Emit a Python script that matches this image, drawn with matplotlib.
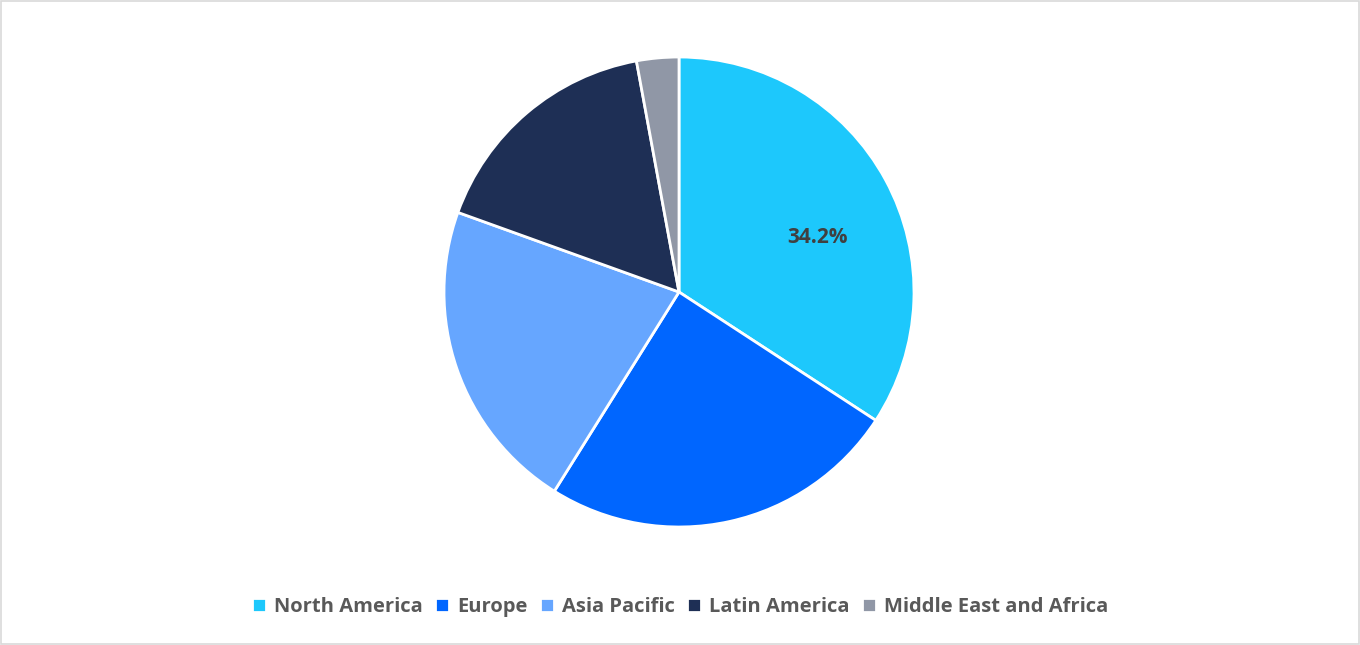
import matplotlib
matplotlib.use("Agg")
import matplotlib.pyplot as plt
from matplotlib.patches import Rectangle

categories = ["North America", "Europe", "Asia Pacific", "Latin America", "Middle East and Africa"]
values = [34.2, 24.7, 21.6, 16.6, 2.9]
colors = ["#1DC8FC", "#0066FF", "#66A6FF", "#1E2F55", "#9097A6"]

fig = plt.figure(figsize=(13.6, 6.45), dpi=100)
fig.patches.append(Rectangle((0.001, 0.002), 0.998, 0.996, transform=fig.transFigure,
                             fill=False, edgecolor="#D9D9D9", linewidth=1.2))
ax = fig.add_axes([(679 - 235) / 1360, (645 - 527) / 645, 470 / 1360, 470 / 645])

def fmt(p):
    return f"{p:.1f}%" if p > 30 else ""

wedges, texts, autotexts = ax.pie(values, colors=colors, startangle=90, counterclock=False,
                                  autopct=fmt, pctdistance=0.63, radius=1,
                                  wedgeprops=dict(edgecolor="white", linewidth=2))
for t in autotexts:
    t.set_fontsize(15); t.set_fontweight("bold"); t.set_color("#404040")
    t.set_family("Open Sans")
autotexts[0].set_position((0.59, 0.23))
ax.set_xlim(-1, 1); ax.set_ylim(-1, 1)
ax.set_aspect("equal")

leg = fig.legend(wedges, categories, loc="center", bbox_to_anchor=(0.5, 1 - 607 / 645),
                 ncol=5, frameon=False, handlelength=0.7, handleheight=0.7,
                 handletextpad=0.4, columnspacing=0.6,
                 prop=dict(family="Open Sans", size=14.5, weight="bold"))
for t in leg.get_texts():
    t.set_color("#595959")
fig.savefig("out.png", dpi=100)
